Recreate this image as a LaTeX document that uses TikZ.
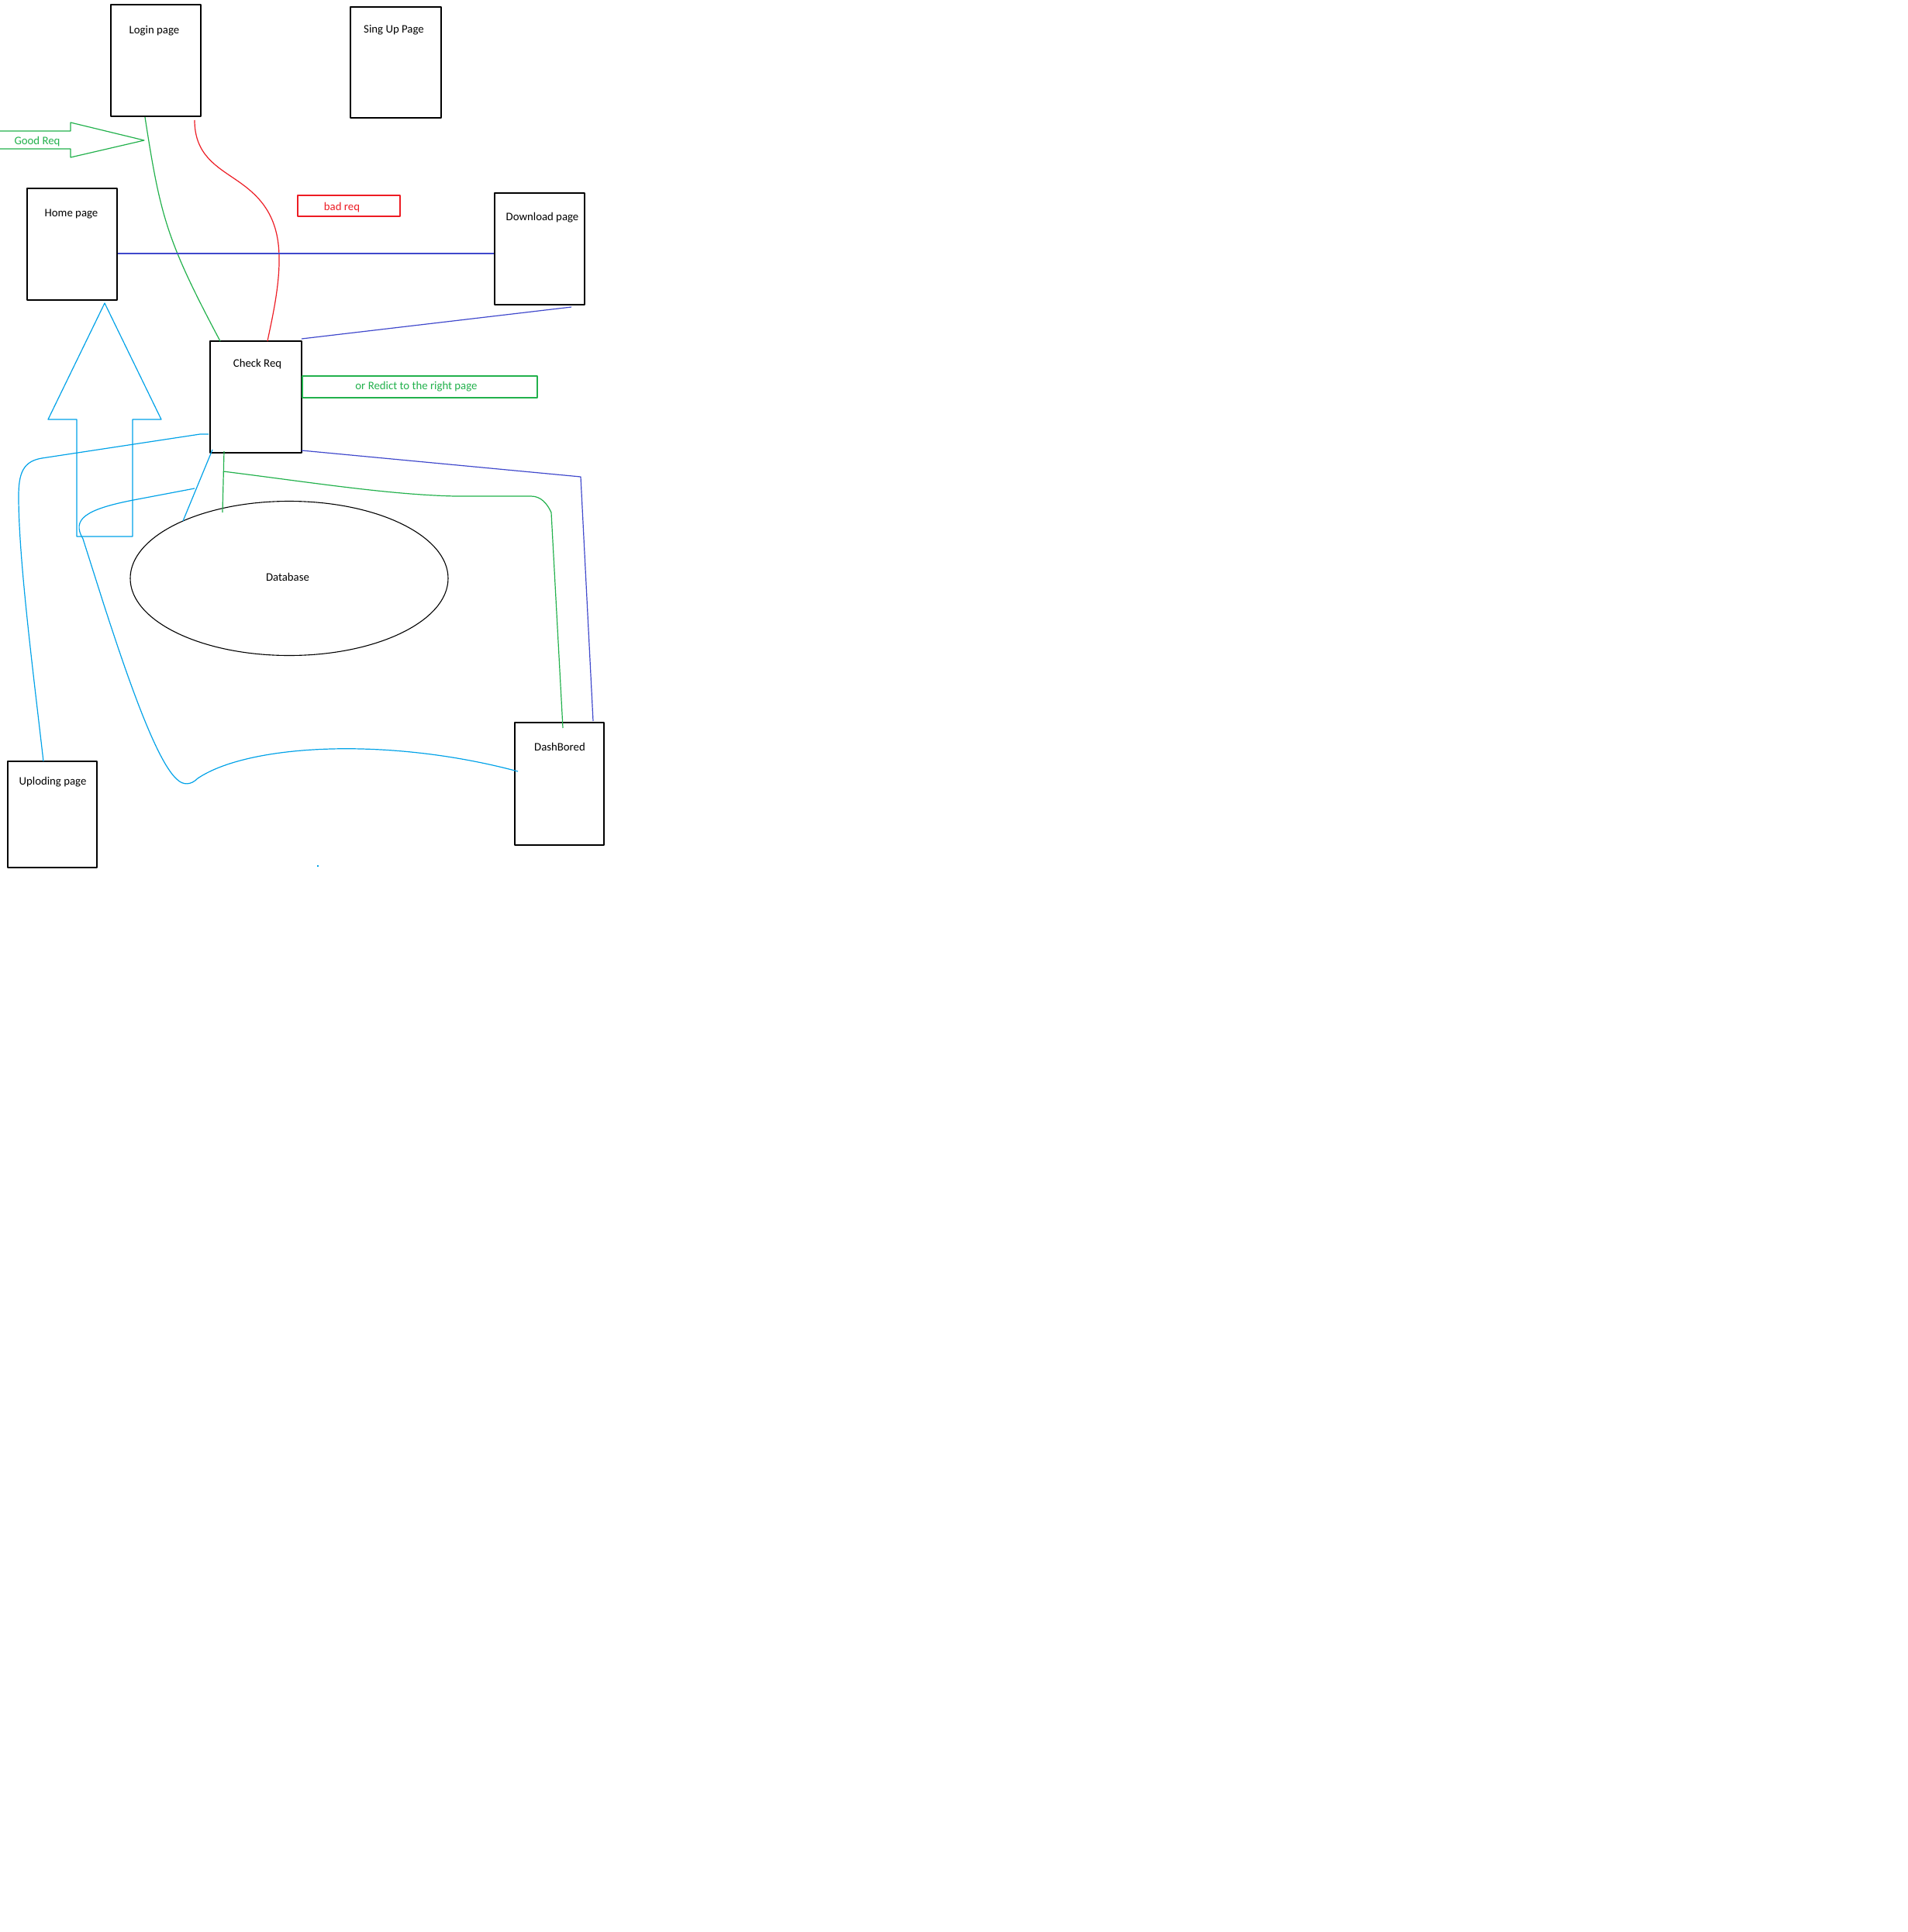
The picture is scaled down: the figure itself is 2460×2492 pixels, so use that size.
\documentclass[tikz,border=0pt]{standalone}
\usepackage{fontspec}
\setmainfont{Carlito}
\usetikzlibrary{shapes.geometric}
\definecolor{pgreen}{HTML}{22B14C}
\definecolor{pred}{HTML}{ED1C24}
\definecolor{pblue}{HTML}{3F48CC}
\definecolor{pcyan}{HTML}{00A2E8}
\begin{document}
\begin{tikzpicture}[x=1pt,y=-1pt,
  font=\fontsize{14.8}{17}\selectfont,
  pagebox/.style={draw=black,line width=1.3pt,inner sep=0pt,outer sep=0pt},
  txt/.style={inner sep=0pt,outer sep=0pt,anchor=center,yshift=-1.5pt},
  gline/.style={draw=pgreen,line width=1.2pt},
  rline/.style={draw=pred,line width=1.2pt},
  bline/.style={draw=pblue,line width=1.2pt},
  cline/.style={draw=pcyan,line width=1.2pt},
  line join=round]
\fill[white] (0,0) rectangle (2460,2492);
\useasboundingbox (0,0) rectangle (2460,2492);

% page boxes
\node[pagebox,minimum width=116pt,minimum height=144pt] (login) at (201,78) {};
\node[txt] (logint) at (199,38) {Login page};
\node[pagebox,minimum width=117pt,minimum height=143pt] (signup) at (510.5,80.5) {};
\node[txt] (signupt) at (508,37) {Sing Up Page};
\node[pagebox,minimum width=116pt,minimum height=144pt] (home) at (93,315) {};
\node[txt] (homet) at (92,275) {Home page};
\node[pagebox,minimum width=116pt,minimum height=144pt] (download) at (696,321) {};
\node[txt] (downloadt) at (699.5,279) {Download page};
\node[pagebox,minimum width=118pt,minimum height=144pt] (check) at (330,512) {};
\node[txt] (checkt) at (332,468) {Check Req};
\node[pagebox,minimum width=115pt,minimum height=158pt] (dash) at (721.5,1011) {};
\node[txt] (dasht) at (722,962) {DashBored};
\node[pagebox,minimum width=115pt,minimum height=137pt] (upload) at (67.5,1050.5) {};
\node[txt] (uploadt) at (68,1007) {Uploding page};
\node[draw=black,line width=1.1pt,ellipse,inner sep=0pt,minimum width=410pt,minimum height=199pt] (db) at (373,746) {};
\node[txt] (dbt) at (371,743) {Database};

% label boxes
\node[draw=pred,line width=1.2pt,inner sep=0pt,minimum width=132pt,minimum height=27pt] (badbox) at (450,265.5) {};
\node[txt,text=pred] (badt) at (441,266) {bad req};
\node[draw=pgreen,line width=1.2pt,inner sep=0pt,minimum width=303pt,minimum height=28pt] (redbox) at (541.5,499) {};
\node[txt,text=pgreen] (redt) at (537,497) {or Redict to the right page};

% Good Req arrow
\draw[gline] (0,169) -- (91,169) -- (91,158) -- (186,181) -- (91,203) -- (91,192) -- (0,192);
\node[txt,text=pgreen] (goodt) at (48,181) {Good Req};

% big up arrow
\draw[cline] (99,692) -- (99,541) -- (62,541) -- (135,391) -- (208,541) -- (171,541) -- (171,692) -- cycle;

% connector end points
\coordinate (loginG) at (187,151);
\coordinate (checkG) at (284,440);
\coordinate (loginR) at (251,155);
\coordinate (checkR) at (345,440);
\coordinate (homeB) at (152,327);
\coordinate (downB) at (637,327);
\coordinate (downB2) at (737,396);
\coordinate (checkB) at (389,437);
\coordinate (checkB2) at (389,581);
\coordinate (dashB) at (765,930);
\coordinate (checkG2) at (289,582);
\coordinate (dbG) at (287,661);
\coordinate (gBranch) at (288,608);
\coordinate (dashG) at (726,939);
\coordinate (checkC) at (274,580);
\coordinate (dbC) at (236,672);
\coordinate (checkC2) at (269,560);
\coordinate (uploadC) at (56,982);
\coordinate (cStart) at (251,630);
\coordinate (dashC) at (668,995);

% green login -> check
\draw[gline] (loginG) .. controls (207,280) and (215,310) .. (checkG);
% red login -> check
\draw[rline] (loginR) .. controls (251,200) and (280,215) .. (306,233)
  .. controls (332,251) and (359,275) .. (360,330)
  .. controls (361,370) and (350,415) .. (checkR);
% blue home -> download
\draw[bline] (homeB) -- (downB);
% blue download -> check
\draw[bline] (downB2) -- (checkB);
% blue check -> dashbored
\draw[bline] (checkB2) -- (749,615) -- (dashB);
% green check -> database and dashbored
\draw[gline] (checkG2) -- (dbG);
\draw[gline] (gBranch) .. controls (400,622) and (500,638) .. (587,640) -- (685,640) .. controls (698,640) and (706,650) .. (711,661) -- (dashG);
% cyan check -> database
\draw[cline] (checkC) -- (dbC);
% cyan check -> uploading
\draw[cline] (checkC2) -- (258,560) -- (54,591) .. controls (30,595) and (24,610) .. (24,640)
  .. controls (24,720) and (42,860) .. (uploadC);
% cyan loop -> dashbored
\draw[cline] (cStart) -- (172,645) .. controls (110,657) and (92,670) .. (107,695)
  -- (134,780) .. controls (160,860) and (200,980) .. (228,1005)
  .. controls (236,1013) and (246,1013) .. (255,1004)
  .. controls (320,960) and (500,950) .. (dashC);
% stray dot
\fill[pcyan] (409,1116) rectangle (411,1118);
\end{tikzpicture}
\end{document}
